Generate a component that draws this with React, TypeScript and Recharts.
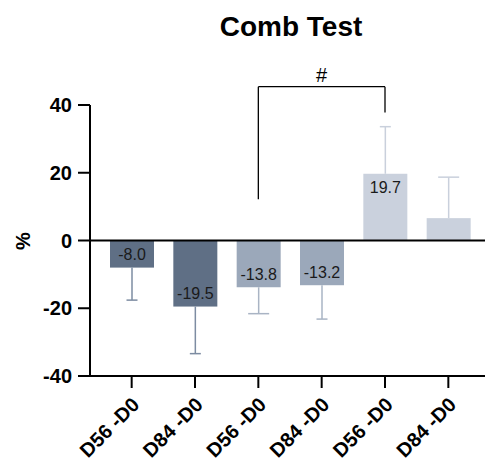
import React from 'react';
import { BarChart, Bar, XAxis, YAxis, Cell, LabelList, ReferenceLine } from 'recharts';

const categoryIds = ['g1', 'g2', 'g3', 'g4', 'g5', 'g6'];
const tickLabels = ['D56 -D0', 'D84 -D0', 'D56 -D0', 'D84 -D0', 'D56 -D0', 'D84 -D0'];
const values = [-8.0, -19.5, -13.8, -13.2, 19.7, 6.6];
const errors = [9.6, 13.9, 7.8, 10.0, 13.9, 12.1];
const valueLabels = ['-8.0', '-19.5', '-13.8', '-13.2', '19.7', ''];
const yTicks = [-40, -20, 0, 20, 40];

// significance bracket (data units)
const bracketFrom = 'g3';
const bracketTo = 'g5';
const bracketTop = 45.4;
const bracketLeftBottom = 12.2;
const bracketRightBottom = 37.8;
const bracketMark = '#';

const barColors = ['#5f6f85', '#5f6f85', '#9ba8ba', '#9ba8ba', '#cad1dd', '#cad1dd'];
const errColors = ['#7d8ca2', '#7d8ca2', '#a9b4c4', '#a9b4c4', '#c9d0dc', '#c9d0dc'];
const capWidths = [11, 11, 21, 11, 11, 21];

const FONT = '"Liberation Sans", Arial, Helvetica, sans-serif';

const data = categoryIds.map((id, i) => ({
  id,
  label: tickLabels[i],
  value: values[i],
  err: errors[i],
  text: valueLabels[i],
  idx: i,
}));

const BarWithError = (props: any) => {
  const { x, y, width, height, payload } = props;
  const top = Math.min(y, y + height);
  const h = Math.abs(height);
  const bottom = top + h;
  const i = payload.idx;
  const v = payload.value;
  const ppu = h / Math.abs(v);
  const errPx = payload.err * ppu;
  const cx = x + width / 2;
  let y1: number, y2: number;
  if (v < 0) {
    y1 = bottom;
    y2 = bottom + errPx;
  } else {
    y1 = top;
    y2 = top - errPx;
  }
  const cw = capWidths[i] / 2;
  return (
    <g>
      <rect x={x} y={top} width={width} height={h} fill={barColors[i]} />
      <line x1={cx} x2={cx} y1={y1} y2={y2} stroke={errColors[i]} strokeWidth={1.5} />
      <line x1={cx - cw} x2={cx + cw} y1={y2} y2={y2} stroke={errColors[i]} strokeWidth={1.5} />
    </g>
  );
};

const ValueLabel = (props: any) => {
  const { x, y, width, height, index } = props;
  const txt = valueLabels[index];
  if (!txt) return null;
  const top = Math.min(y, y + height);
  const bottom = top + Math.abs(height);
  const v = values[index];
  const cy = v < 0 ? bottom - 13 : top + 14;
  return (
    <text
      x={x + width / 2}
      y={cy}
      textAnchor="middle"
      dominantBaseline="central"
      fontSize={16}
      fontFamily={FONT}
      fill="#1a1a1a"
    >
      {txt}
    </text>
  );
};

const XTick = (props: any) => {
  const { x, y, index } = props;
  return (
    <g transform={`translate(${x + 9},${y + 18})`}>
      <text
        transform="rotate(-45)"
        textAnchor="end"
        x={0}
        y={0}
        fontSize={20}
        fontWeight="bold"
        fontFamily={FONT}
        fill="#000"
      >
        {tickLabels[index]}
      </text>
    </g>
  );
};

export default function App() {
  return (
    <div style={{ position: 'absolute', left: 0, top: 0, width: 485, height: 464, background: '#fff' }}>
      <BarChart
        width={485}
        height={464}
        data={data}
        margin={{ top: 105, right: 0, bottom: 0, left: 0 }}
        barSize={44}
      >
        <XAxis
          dataKey="id"
          type="category"
          height={88}
          padding={{ left: 10, right: 5 }}
          axisLine={{ stroke: '#000', strokeWidth: 2 }}
          tickLine={{ stroke: '#000', strokeWidth: 2 }}
          tickSize={12}
          tickMargin={0}
          interval={0}
          tick={<XTick />}
        />
        <YAxis
          type="number"
          domain={[-40, 40]}
          ticks={yTicks}
          width={90}
          axisLine={{ stroke: '#000', strokeWidth: 2 }}
          tickLine={{ stroke: '#000', strokeWidth: 2 }}
          tickSize={12}
          tickMargin={6}
          tick={{ fontSize: 20, fontWeight: 'bold', fill: '#000', fontFamily: FONT }}
        />
        <Bar dataKey="value" isAnimationActive={false} shape={<BarWithError />}>
          {data.map((d, i) => (
            <Cell key={d.id} fill={barColors[i]} />
          ))}
          <LabelList dataKey="value" content={<ValueLabel />} />
        </Bar>
        <ReferenceLine y={0} stroke="#000" strokeWidth={2} />
        <ReferenceLine
          ifOverflow="visible"
          segment={[
            { x: bracketFrom, y: bracketLeftBottom },
            { x: bracketFrom, y: bracketTop },
          ]}
          stroke="#000"
          strokeWidth={1.3}
        />
        <ReferenceLine
          ifOverflow="visible"
          segment={[
            { x: bracketTo, y: bracketRightBottom },
            { x: bracketTo, y: bracketTop },
          ]}
          stroke="#000"
          strokeWidth={1.3}
        />
        <ReferenceLine
          ifOverflow="visible"
          segment={[
            { x: bracketFrom, y: bracketTop },
            { x: bracketTo, y: bracketTop },
          ]}
          stroke="#000"
          strokeWidth={1.3}
          label={{
            value: bracketMark,
            position: 'top',
            offset: 5,
            fontSize: 20,
            fill: '#000',
            fontFamily: FONT,
          }}
        />
      </BarChart>
      <svg
        width={485}
        height={464}
        style={{ position: 'absolute', left: 0, top: 0, pointerEvents: 'none' }}
      >
        <text x={291} y={36} textAnchor="middle" fontSize={28} fontWeight="bold" fontFamily={FONT} fill="#000">
          Comb Test
        </text>
        <text
          x={0}
          y={0}
          transform="translate(23,241) rotate(-90)"
          textAnchor="middle"
          dominantBaseline="central"
          fontSize={20}
          fontWeight="bold"
          fontFamily={FONT}
          fill="#000"
        >
          %
        </text>
      </svg>
    </div>
  );
}
